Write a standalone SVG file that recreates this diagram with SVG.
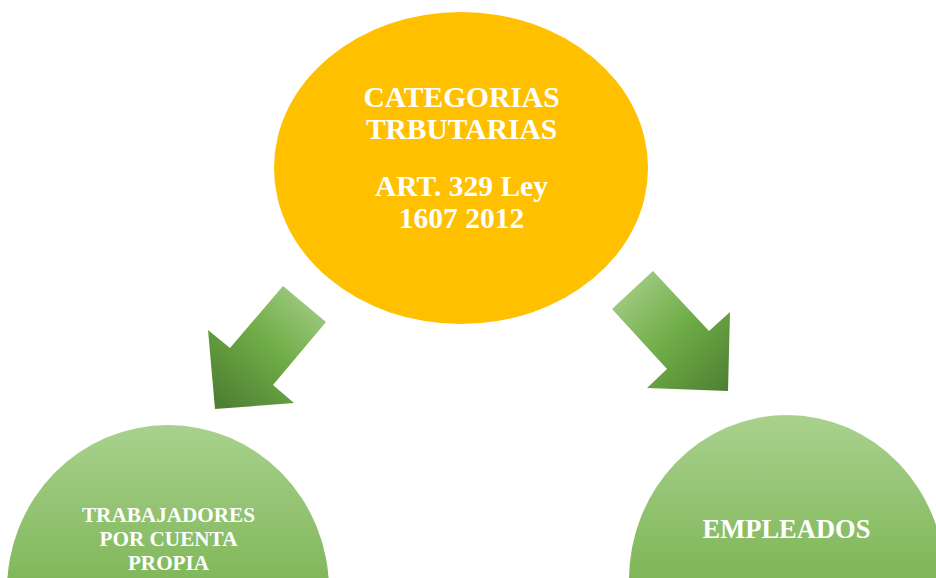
<svg xmlns="http://www.w3.org/2000/svg" width="936" height="578" viewBox="0 0 936 578">
<style>
.t{font-family:"Liberation Serif","Times New Roman",serif;font-weight:bold;fill:#ffffff;text-anchor:middle}
</style>
<defs>
<linearGradient id="gE" x1="0" y1="0" x2="0" y2="1">
<stop offset="0" stop-color="#a9d18e"/>
<stop offset="0.6" stop-color="#76b14c"/>
<stop offset="1" stop-color="#6aa842"/>
</linearGradient>
<linearGradient id="gL" gradientUnits="userSpaceOnUse" x1="326" y1="290" x2="220" y2="405">
<stop offset="0" stop-color="#a9d18e"/>
<stop offset="0.5" stop-color="#70ad47"/>
<stop offset="1" stop-color="#4e7f32"/>
</linearGradient>
<linearGradient id="gR" gradientUnits="userSpaceOnUse" x1="615" y1="280" x2="728" y2="390">
<stop offset="0" stop-color="#a9d18e"/>
<stop offset="0.5" stop-color="#70ad47"/>
<stop offset="1" stop-color="#4e7f32"/>
</linearGradient>
</defs>
<g id="connectors">
<polygon points="283,286 326,322 273,385 294,403 215,409 208,330 230,348" fill="url(#gL)"/>
<polygon points="653,271 612,309 667,369 647,388 728,391 730,312 709,331" fill="url(#gR)"/>
</g>
<g id="node-top">
<ellipse cx="461" cy="168" rx="187" ry="156" fill="#ffc000"/>
<text class="t" x="461.5" y="107" font-size="29.5">CATEGORIAS</text>
<text class="t" x="461.5" y="139" font-size="29.5">TRBUTARIAS</text>
<text class="t" x="461.5" y="196" font-size="29.5">ART. 329 Ley</text>
<text class="t" x="461.5" y="228" font-size="29.5">1607 2012</text>
</g>
<g id="node-left">
<ellipse cx="168" cy="590" rx="161" ry="165" fill="url(#gE)"/>
<text class="t" x="168.5" y="522" font-size="21.2">TRABAJADORES</text>
<text class="t" x="168.5" y="546" font-size="21.2">POR CUENTA</text>
<text class="t" x="168.5" y="570" font-size="21.2">PROPIA</text>
</g>
<g id="node-right">
<ellipse cx="787" cy="580" rx="158" ry="165" fill="url(#gE)"/>
<text class="t" x="786.5" y="538" font-size="26.5">EMPLEADOS</text>
</g>
</svg>
